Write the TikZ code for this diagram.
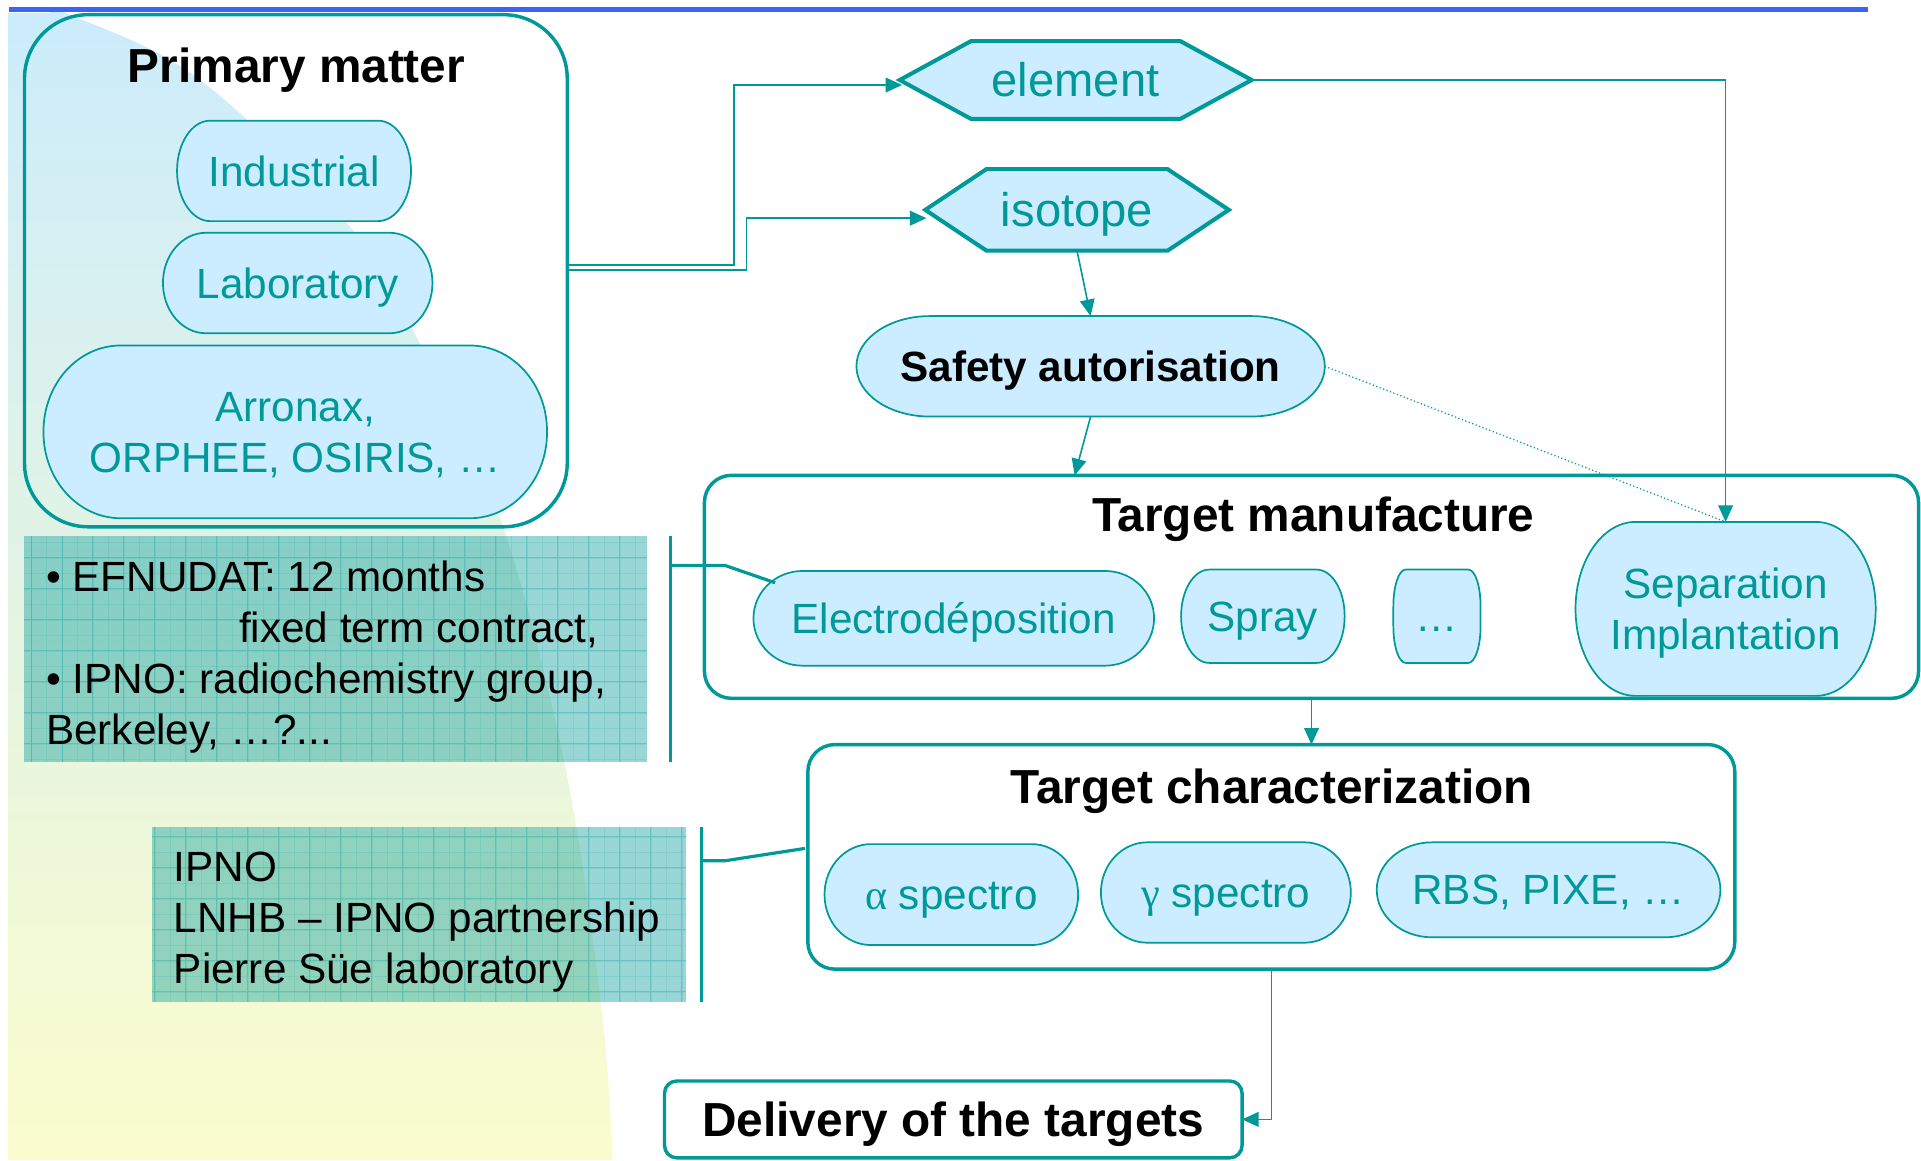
\documentclass[tikz,border=0pt]{standalone}
\usepackage{fontspec}
\setmainfont{Liberation Sans}
\newfontfamily\greekserif{Liberation Serif}
\usetikzlibrary{arrows.meta,calc}

\definecolor{flowteal}{RGB}{0,153,153}
\definecolor{pillblue}{RGB}{204,236,255}
\definecolor{rulerblue}{RGB}{59,99,245}
\definecolor{washtop}{RGB}{204,236,252}
\definecolor{washbottom}{RGB}{250,252,204}

\newcommand\txtbody{\fontsize{34.5pt}{41.6pt}\selectfont}
\newcommand\txthex{\fontsize{38.5pt}{46pt}\selectfont}
\newcommand\txthead{\fontsize{39pt}{46pt}\selectfont\bfseries}
\newcommand\upstrut{\rule{0pt}{32.7pt}}
\newcommand\downstrut{\rule[-8pt]{0pt}{0pt}}

% Box with elliptical corners (x radius / y radius) and a stretched hexagon
\makeatletter
\newdimen\ovalrx \newdimen\ovalry \newdimen\hexcut
\def\ov@arc#1#2{\edef\ov@tmp{\noexpand\pgfpatharc{#1}{#2}{\the\ovalrx\space and \the\ovalry}}\ov@tmp}
\pgfdeclareshape{ovalbox}{%
  \inheritsavedanchors[from=rectangle]%
  \inheritanchorborder[from=rectangle]%
  \inheritanchor[from=rectangle]{center}%
  \inheritanchor[from=rectangle]{north}%
  \inheritanchor[from=rectangle]{south}%
  \inheritanchor[from=rectangle]{east}%
  \inheritanchor[from=rectangle]{west}%
  \inheritanchor[from=rectangle]{north east}%
  \inheritanchor[from=rectangle]{north west}%
  \inheritanchor[from=rectangle]{south east}%
  \inheritanchor[from=rectangle]{south west}%
  \inheritanchor[from=rectangle]{base}%
  \inheritanchor[from=rectangle]{mid}%
  \backgroundpath{%
    \southwest \edef\ov@xa{\the\pgf@x}\edef\ov@ya{\the\pgf@y}%
    \northeast \edef\ov@xd{\the\pgf@x}\edef\ov@yd{\the\pgf@y}%
    \pgf@xa=\ov@xa\relax\advance\pgf@xa by\ovalrx\edef\ov@xb{\the\pgf@xa}%
    \pgf@xa=\ov@xd\relax\advance\pgf@xa by-\ovalrx\edef\ov@xc{\the\pgf@xa}%
    \pgf@ya=\ov@ya\relax\advance\pgf@ya by\ovalry\edef\ov@yb{\the\pgf@ya}%
    \pgf@ya=\ov@yd\relax\advance\pgf@ya by-\ovalry\edef\ov@yc{\the\pgf@ya}%
    \pgfpathmoveto{\pgfqpoint{\ov@xa}{\ov@yb}}%
    \pgfpathlineto{\pgfqpoint{\ov@xa}{\ov@yc}}%
    \ov@arc{180}{90}%
    \pgfpathlineto{\pgfqpoint{\ov@xc}{\ov@yd}}%
    \ov@arc{90}{0}%
    \pgfpathlineto{\pgfqpoint{\ov@xd}{\ov@yb}}%
    \ov@arc{0}{-90}%
    \pgfpathlineto{\pgfqpoint{\ov@xb}{\ov@ya}}%
    \ov@arc{-90}{-180}%
    \pgfpathclose
  }%
}
\pgfdeclareshape{hexbox}{%
  \inheritsavedanchors[from=rectangle]%
  \inheritanchorborder[from=rectangle]%
  \inheritanchor[from=rectangle]{center}%
  \inheritanchor[from=rectangle]{north}%
  \inheritanchor[from=rectangle]{south}%
  \inheritanchor[from=rectangle]{east}%
  \inheritanchor[from=rectangle]{west}%
  \inheritanchor[from=rectangle]{north east}%
  \inheritanchor[from=rectangle]{north west}%
  \inheritanchor[from=rectangle]{south east}%
  \inheritanchor[from=rectangle]{south west}%
  \inheritanchor[from=rectangle]{base}%
  \inheritanchor[from=rectangle]{mid}%
  \backgroundpath{%
    \southwest \edef\hx@xa{\the\pgf@x}\edef\hx@ya{\the\pgf@y}%
    \northeast \edef\hx@xd{\the\pgf@x}\edef\hx@yd{\the\pgf@y}%
    \pgf@xa=\hx@xa\relax\advance\pgf@xa by\hexcut\edef\hx@xb{\the\pgf@xa}%
    \pgf@xa=\hx@xd\relax\advance\pgf@xa by-\hexcut\edef\hx@xc{\the\pgf@xa}%
    \pgf@ya=\hx@ya\relax\advance\pgf@ya by\hx@yd\relax\divide\pgf@ya by 2\edef\hx@ym{\the\pgf@ya}%
    \pgfpathmoveto{\pgfqpoint{\hx@xa}{\hx@ym}}%
    \pgfpathlineto{\pgfqpoint{\hx@xb}{\hx@yd}}%
    \pgfpathlineto{\pgfqpoint{\hx@xc}{\hx@yd}}%
    \pgfpathlineto{\pgfqpoint{\hx@xd}{\hx@ym}}%
    \pgfpathlineto{\pgfqpoint{\hx@xc}{\hx@ya}}%
    \pgfpathlineto{\pgfqpoint{\hx@xb}{\hx@ya}}%
    \pgfpathclose
  }%
}
\makeatother

\tikzset{
  oval rx/.code={\pgfmathsetlength\ovalrx{#1}},
  oval ry/.code={\pgfmathsetlength\ovalry{#1}},
  hex cut/.code={\pgfmathsetlength\hexcut{#1}},
  flowline/.style={draw=flowteal, line width=1.3pt},
  flowarrow/.style={flowline, -{Triangle[length=13.5pt,width=12pt]}},
  bracket/.style={draw=flowteal, line width=2.6pt},
  pill/.style={shape=ovalbox, draw=flowteal, fill=pillblue, line width=1.4pt,
    inner sep=0pt, outer sep=0pt, text=flowteal, font=\txtbody, align=center},
  oneline/.style={text height=31pt, text depth=6.3pt},
  hexnode/.style={shape=hexbox, draw=flowteal, fill=pillblue, line width=3.3pt,
    inner sep=0pt, outer sep=0pt, text=flowteal, font=\txthex,
    text height=34.6pt, text depth=7pt},
  panel/.style={draw=flowteal, line width=2.8pt, rounded corners=22pt,
    inner sep=0pt, outer sep=0pt},
  heading/.style={font=\txthead, text=black, inner sep=0pt,
    text height=35pt, text depth=7pt},
  notebox/.style={fill=flowteal, fill opacity=0.4, inner sep=0pt, outer sep=0pt},
  notetext/.style={font=\txtbody, text=black, align=left, inner sep=0pt},
  gridmajor/.style={draw=flowteal, draw opacity=0.3, line width=0.8pt},
  gridminor/.style={draw=flowteal, draw opacity=0.12, line width=0.6pt},
}

\begin{document}
\begin{tikzpicture}[x=1pt,y=-1pt]
\useasboundingbox (0,0) rectangle (1568,947);
\fill[white] (0,0) rectangle (1568,947);

% soft colour wash on the left
\shade[top color=washtop, bottom color=washbottom]
  (7,10.5) -- plot[smooth, tension=0.6] coordinates {(41,10.5) (62,14) (163,65) (284,183)
  (343,281) (408,422) (461,624) (491,824) (500,947)} -- (7,947) -- cycle;

% title rule
\draw[rulerblue, line width=4pt] (7,7.5) -- (1525,7.5);

% staff notes
\node[notebox, minimum width=508.2pt, minimum height=184.3pt] (efn) at (273.6,529.85) {};
\draw[gridminor] (efn.south west) grid[step=12.65pt] (efn.north east);
\draw[gridmajor] (efn.south west) grid[step=25.3pt] (efn.north east);
\node[notetext, anchor=north west] (efntext) at ($(efn.north west)+(18,12.4)$)
  {\upstrut• EFNUDAT: 12 months\\\hspace*{157.5pt}fixed term contract,\\• IPNO: radiochemistry group,\\Berkeley, …?...};

\node[notebox, minimum width=435.9pt, minimum height=142.5pt] (ipno) at (341.65,746.25) {};
\draw[gridminor] (ipno.south west) grid[step=12.65pt] (ipno.north east);
\draw[gridmajor] (ipno.south west) grid[step=25.3pt] (ipno.north east);
\node[notetext, anchor=north west] (ipnotext) at ($(ipno.north west)+(18,11.8)$)
  {\upstrut IPNO\\LNHB – IPNO partnership\\Pierre Süe laboratory};

% primary matter
\node[panel, rounded corners=52pt, minimum width=443pt, minimum height=418pt] (pm) at (241.5,221) {};
\node[heading] (pmtitle) at (242,53) {Primary matter};
\node[pill, oneline, oval rx=27, oval ry=41, minimum width=191pt, minimum height=82pt] (ind) at (240,139.5) {Industrial};
\node[pill, oneline, oval rx=35, oval ry=41, minimum width=220pt, minimum height=82pt] (lab) at (243,231) {Laboratory};
\node[pill, oval rx=63, oval ry=70, minimum width=411pt, minimum height=141pt] (arr) at (241,352.5)
  {\upstrut Arronax,\\ORPHEE, OSIRIS, …\downstrut};

% element / isotope / safety
\node[hexnode, hex cut=58.3, minimum width=287.3pt, minimum height=63.6pt] (el) at (878,65.3) {element};
\node[hexnode, hex cut=50, minimum width=247.8pt, minimum height=66.6pt] (iso) at (879.1,171.3) {isotope};
\node[pill, oneline, oval rx=60, oval ry=41, minimum width=382.3pt, minimum height=82pt,
  text=black, font=\txtbody\bfseries] (safe) at (890.2,299) {Safety autorisation};

% target manufacture
\node[panel, minimum width=991pt, minimum height=182pt] (tm) at (1070.5,479) {};
\node[heading] (tmtitle) at (1072,420) {Target manufacture};
\node[pill, oneline, oval rx=40, oval ry=38.6, minimum width=327pt, minimum height=77.3pt] (elec) at (778.5,504.7) {Electrodéposition};
\node[pill, oneline, oval rx=23, oval ry=38, minimum width=133.5pt, minimum height=76.2pt] (spray) at (1030.8,503) {Spray};
\node[pill, oneline, oval rx=10, oval ry=30, minimum width=71.2pt, minimum height=76.2pt] (more) at (1172.9,503) {…};
\node[pill, oval rx=49, oval ry=71, minimum width=245pt, minimum height=142pt] (sep) at (1408.5,497)
  {\upstrut Separation\\Implantation\downstrut};

% target characterization
\node[panel, minimum width=756.6pt, minimum height=183.3pt] (tc) at (1037.7,699.4) {};
\node[heading] (tctitle) at (1038,641.5) {Target characterization};
\node[pill, oneline, oval rx=38, oval ry=41, minimum width=207pt, minimum height=82.4pt] (alpha) at (776.5,730.2) {{\greekserif α} spectro};
\node[pill, oneline, oval rx=38, oval ry=41, minimum width=204pt, minimum height=82pt] (gamma) at (1000.6,728.5) {{\greekserif γ} spectro};
\node[pill, oneline, oval rx=45, oval ry=38.7, minimum width=280.5pt, minimum height=77.5pt] (rbs) at (1264,726.3) {RBS, PIXE, …};

% delivery
\node[panel, rounded corners=10pt, minimum width=471.4pt, minimum height=62.7pt,
  font=\txthead, text height=35pt, text depth=7pt] (del) at (778.1,913.7) {Delivery of the targets};

% flow connectors
\draw[flowarrow] ($(pm.east)+(0,-4.6)$) -- ++(136,0) |- ($(el.west)+(2,4.1)$);
\draw[flowarrow] ($(pm.east)+(0,-0.8)$) -- ++(146.4,0) |- ($(iso.west)+(1,6.8)$);
\draw[flowarrow] (iso.south) -- (safe.north);
\draw[flowarrow] (safe.south) -- ($(tm.north west)+(302.2,0)$);
\draw[flowarrow] (el.east) -| (sep.north);
\draw[flowline, line width=1pt, dotted] (safe.east) -- (sep.north);
\draw[flowarrow] (tm.south) -- (tm.south |- tc.north);
\draw[flowarrow] (tc.south) |- (del.east);

% brackets tying the notes to the steps
\draw[bracket] ($(efn.north east)+(19.5,0)$) -- ($(efn.south east)+(19.5,0)$);
\draw[bracket] ($(efn.north east)+(19.5,23.8)$) -- ++(44.5,0) -- ($(elec.north west)+(17.7,9.6)$);
\draw[bracket] ($(ipno.north east)+(13.1,0)$) -- ($(ipno.south east)+(13.1,0)$);
\draw[bracket] ($(ipno.north east)+(13.1,27.5)$) -- ++(19.6,0) -- ($(tc.west)+(-2.4,-6.9)$);
\end{tikzpicture}
\end{document}
